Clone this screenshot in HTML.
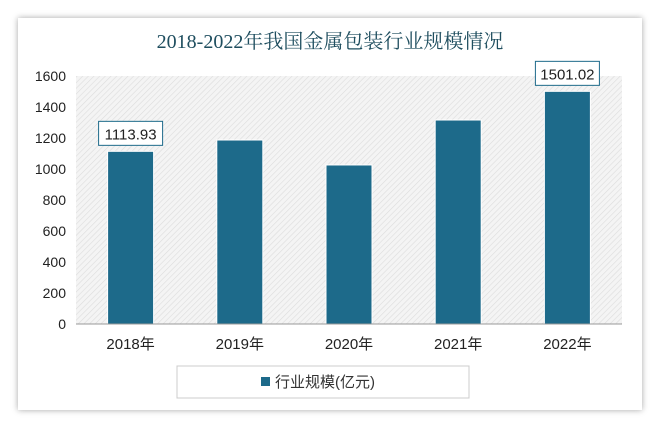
<!DOCTYPE html>
<html><head><meta charset="utf-8"><style>
body{margin:0;width:659px;height:424px;background:#fff;overflow:hidden;font-family:"Liberation Sans","Noto Sans CJK SC",sans-serif}
#card{position:absolute;left:18px;top:18px;width:624px;height:392px;background:#fff;box-shadow:0 0 6px rgba(0,0,0,0.35)}
</style></head><body>
<div id="card"></div>
<svg id="chart" width="659" height="424" style="position:absolute;left:0;top:0">
<defs><pattern id="hatch" width="4" height="4" patternUnits="userSpaceOnUse" patternTransform="rotate(45)"><rect width="4" height="4" fill="#f4f4f4"/><line x1="0" y1="0" x2="0" y2="4" stroke="#dcdcdc" stroke-width="1.2"/></pattern></defs>
<text x="330" y="48" text-anchor="middle" font-family="'Liberation Serif','Noto Serif CJK SC',serif" font-size="20" fill="#1f4e5f">2018-2022年我国金属包装行业规模情况</text>
<rect x="76" y="76" width="546" height="248" fill="url(#hatch)"/>
<g id="ticks"></g><g id="bars"></g>
<line x1="76" y1="324" x2="622" y2="324" stroke="#999"/>
<rect x="177" y="366" width="292" height="32" fill="#fff" stroke="#ccc"/>
<rect x="261" y="377" width="9" height="9" fill="#1d6a8a"/>
<text x="275" y="387" font-size="15" fill="#333">行业规模(亿元)</text>
</svg>
<script>
const categories=["2018年","2019年","2020年","2021年","2022年"];
const values=[1113.93,1187,1026,1316,1501.02];
const yTicks=[0,200,400,600,800,1000,1200,1400,1600];
const labelled=[0,4];
const NS="http://www.w3.org/2000/svg";
const x0=76,w=546,yBase=324,yMax=1600,h=248;
const y=v=>yBase-v/yMax*h;
const xc=i=>x0+w/categories.length*(i+0.5);
function mk(tag,attrs,parent,text){const e=document.createElementNS(NS,tag);for(const k in attrs)e.setAttribute(k,attrs[k]);if(text!==undefined)e.textContent=text;parent.appendChild(e);return e;}
const tg=document.getElementById('ticks'),bg=document.getElementById('bars');
yTicks.forEach(t=>{const e=mk('text',{x:66,y:y(t)+5,'text-anchor':'end','font-size':'14',fill:'#222'},tg,String(t));

});
categories.forEach((c,i)=>{const bw=46;
const r=mk('rect',{x:xc(i)-bw/2,y:y(values[i]),width:bw,height:yBase-y(values[i]),fill:'#1d6a8a',stroke:'#fff','stroke-width':'1'},bg);


const t=mk('text',{x:xc(i),y:349,'text-anchor':'middle','font-size':'15',fill:'#222'},bg,c);


if(labelled.includes(i)){const ly=y(values[i])-30;
const b=mk('rect',{x:xc(i)-32,y:ly,width:64,height:24,fill:'#fff',stroke:'#1d6a8a'},bg);


const lt=mk('text',{x:xc(i),y:ly+18,'text-anchor':'middle','font-size':'15',fill:'#222'},bg,values[i].toFixed(2));

}
});
</script>
</body></html>
